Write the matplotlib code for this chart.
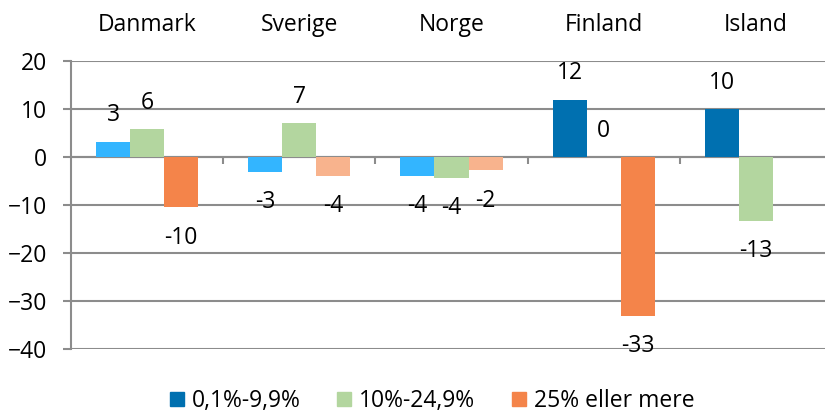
import numpy as np
from matplotlib import pyplot as plt
from matplotlib.patches import Patch
from matplotlib.transforms import blended_transform_factory

lande = ["Danmark", "Sverige", "Norge", "Finland", "Island"]
serier = ["0,1%-9,9%", "10%-24,9%", "25% eller mere"]

# værdier
andel_lav = [3.2, -3.1, -3.9, 11.9, 10.0]
andel_mellem = [5.8, 7.1, -4.3, 0.0, -13.3]
andel_hoej = [-10.5, -3.9, -2.7, -33.1, np.nan]

etiket_lav = ["3", "-3", "-4", "12", "10"]
etiket_mellem = ["6", "7", "-4", "0", "-13"]
etiket_hoej = ["-10", "-4", "-2", "-33", ""]

# farver pr. søjle (Excel bruger lysere nuancer for nogle lande)
farve_lav = ["#33B5FF", "#33B5FF", "#33B5FF", "#0070B0", "#0070B0"]
farve_mellem = ["#B3D69F"] * 5
farve_hoej = ["#F4844A", "#F8B38D", "#F8B38D", "#F4844A", "#F4844A"]
legende_farver = ["#0070B0", "#B3D69F", "#F4844A"]

plt.rcParams['font.family'] = ['Open Sans', 'DejaVu Sans']
fs = 16.5
grå = "#8C8C8C"

fig = plt.figure(figsize=(8.25, 4.12), dpi=100)
ax = fig.add_axes([71/825, 63/412, (832-71)/825, 288/412])

x = np.arange(len(lande))
b = 0.224
data = [andel_lav, andel_mellem, andel_hoej]
etiketter = [etiket_lav, etiket_mellem, etiket_hoej]
farver = [farve_lav, farve_mellem, farve_hoej]

for i in range(3):
    pos = x + (i - 1) * b
    ax.bar(pos, data[i], width=b, color=farver[i], zorder=3)
    for j in range(len(lande)):
        v = data[i][j]
        if np.isnan(v) or etiketter[i][j] == "":
            continue
        dy = 19 if v >= 0 else -22
        ax.annotate(etiketter[i][j], (pos[j], v), xytext=(0, dy),
                    textcoords="offset points", ha="center", va="center",
                    fontsize=fs, zorder=4)

ax.set_xlim(-0.5, 4.5)
ax.set_ylim(-40, 20)
ax.set_yticks([-40, -30, -20, -10, 0, 10, 20])
ax.yaxis.grid(True, color=grå, linewidth=1.5, zorder=0)
ax.tick_params(axis="y", length=6, width=1.5, color=grå, pad=11, labelsize=fs)

for s in ["top", "right"]:
    ax.spines[s].set_visible(False)
ax.spines["left"].set_color(grå)
ax.spines["left"].set_linewidth(1.5)
ax.spines["bottom"].set_position(("data", 0))
ax.spines["bottom"].set_color(grå)
ax.spines["bottom"].set_linewidth(1.5)
ax.set_xticks([0.5, 1.5, 2.5, 3.5])
ax.set_xticklabels([])
ax.tick_params(axis="x", direction="out", length=5, width=1.5, color=grå)

trans = blended_transform_factory(ax.transData, fig.transFigure)
for j, land in enumerate(lande):
    ax.text(x[j], 1 - 25/412, land, transform=trans, ha="center",
            va="center", fontsize=fs)

handles = [Patch(color=c) for c in legende_farver]
fig.legend(handles, serier, loc="center", bbox_to_anchor=(0.524, 11/412),
           ncol=3, frameon=False, fontsize=fs, handlelength=0.6,
           handleheight=0.6, handletextpad=0.35, columnspacing=1.6)

fig.savefig("out.png", dpi=100)
